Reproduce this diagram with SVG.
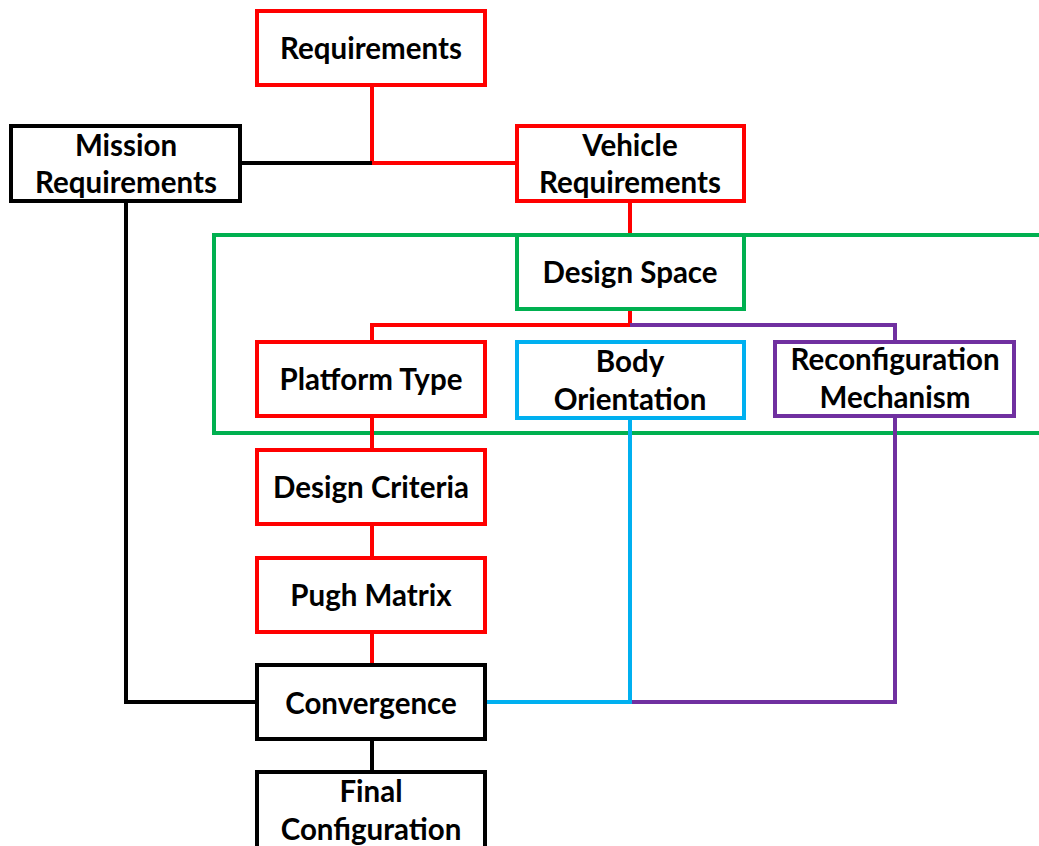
<svg xmlns="http://www.w3.org/2000/svg" width="1039" height="846" viewBox="0 0 1039 846">
  <style>
    .box { fill: #ffffff; stroke-width: 4; }
    .red { stroke: #ff0000; }
    .blk { stroke: #000000; }
    .grn { stroke: #00b050; }
    .blu { stroke: #00b0f0; }
    .pur { stroke: #7030a0; }
    .wire { fill: none; stroke-width: 4; }
    text { font-family: Lato, "Open Sans", "Liberation Sans", sans-serif; font-weight: bold; font-size: 29.5px; fill: #000000; text-anchor: middle; }
  </style>
  <rect width="1039" height="846" fill="#ffffff"/>

  <!-- design space frame -->
  <g id="design-space-frame">
    <path class="wire grn" d="M1045,235 H214 V433 H1045"/>
  </g>

  <g id="connectors">
    <path class="wire red" d="M372,87 V163 H515"/>
    <path class="wire blk" d="M242,163 H372"/>
    <path class="wire red" d="M630,203 V235"/>
    <path class="wire red" d="M630,310 V325 H372 V340"/>
    <path class="wire pur" d="M630,325 H895 V340"/>
    <path class="wire red" d="M372,418 V448"/>
    <path class="wire red" d="M372,526 V556"/>
    <path class="wire red" d="M372,634 V663"/>
    <path class="wire blk" d="M126,203 V702 H257"/>
    <path class="wire pur" d="M895,418 V702 H630"/>
    <path class="wire blu" d="M630,420 V702 H487"/>
    <path class="wire blk" d="M372,741 V770"/>
  </g>

  <g id="requirements">
    <rect class="box red" x="257" y="11" width="228" height="74"/>
    <text x="371" y="59">Requirements</text>
  </g>
  <g id="mission-requirements">
    <rect class="box blk" x="11" y="126" width="229" height="75"/>
    <text x="126" y="156">Mission</text>
    <text x="126" y="193">Requirements</text>
  </g>
  <g id="vehicle-requirements">
    <rect class="box red" x="517" y="126" width="227" height="75"/>
    <text x="630" y="156">Vehicle</text>
    <text x="630" y="193">Requirements</text>
  </g>
  <g id="design-space">
    <rect class="box grn" x="517" y="235" width="227" height="74"/>
    <text x="630" y="283">Design Space</text>
  </g>
  <g id="platform-type">
    <rect class="box red" x="257" y="342" width="228" height="74"/>
    <text x="371" y="390">Platform Type</text>
  </g>
  <g id="body-orientation">
    <rect class="box blu" x="517" y="342" width="227" height="76"/>
    <text x="630" y="372">Body</text>
    <text x="630" y="410">Orientation</text>
  </g>
  <g id="reconfiguration-mechanism">
    <rect class="box pur" x="775" y="342" width="239" height="74"/>
    <text x="895" y="370">Reconfiguration</text>
    <text x="895" y="408">Mechanism</text>
  </g>
  <g id="design-criteria">
    <rect class="box red" x="257" y="450" width="228" height="74"/>
    <text x="371" y="498">Design Criteria</text>
  </g>
  <g id="pugh-matrix">
    <rect class="box red" x="257" y="558" width="228" height="74"/>
    <text x="371" y="606">Pugh Matrix</text>
  </g>
  <g id="convergence">
    <rect class="box blk" x="257" y="665" width="228" height="74"/>
    <text x="371" y="714">Convergence</text>
  </g>
  <g id="final-configuration">
    <rect class="box blk" x="257" y="772" width="228" height="90"/>
    <text x="371" y="802">Final</text>
    <text x="371" y="840">Configuration</text>
  </g>
</svg>
